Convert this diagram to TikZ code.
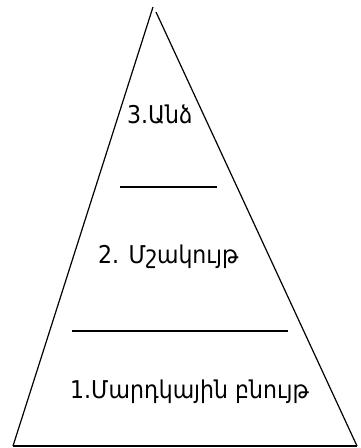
\documentclass[tikz,border=0pt]{standalone}
\usepackage{fontspec}
\setmainfont[FakeStretch=0.9]{DejaVu Sans}
\begin{document}
\begin{tikzpicture}[x=1pt,y=-1pt,
  edge/.style={line width=1.2pt},
  level/.style={anchor=base west,inner sep=0pt,font=\fontsize{24.5}{28}\selectfont}]
\useasboundingbox (0,0) rectangle (360,448);
% pyramid outline
\coordinate (apexL) at (153,7);
\coordinate (apexR) at (156,12);
\coordinate (baseL) at (13,446);
\coordinate (baseR) at (357,446);
\draw[edge] (apexL) -- (baseL);
\draw[edge] (apexR) -- (baseR);
\draw[edge] (baseL) -- (baseR);
% dividers between the levels
\coordinate (d1a) at (120,187);
\coordinate (d1b) at (217,187);
\coordinate (d2a) at (72,331);
\coordinate (d2b) at (288,331);
\draw[edge] (d1a) -- (d1b);
\draw[edge] (d2a) -- (d2b);
% level labels
\node[level] (top) at (127,123) {3.Անձ};
\node[level] (mid) at (98,263) {2. Մշակույթ};
\node[level] (bot) at (70,398) {1.Մարդկային բնույթ};
\end{tikzpicture}
\end{document}
